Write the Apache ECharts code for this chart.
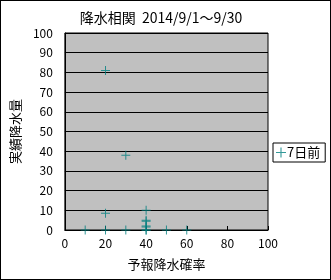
<!DOCTYPE html>
<html><head><meta charset="utf-8">
<script src="https://cdn.jsdelivr.net/npm/echarts@6/dist/echarts.min.js"></script>
<style>html,body{margin:0;padding:0;background:#fff}#c{width:331px;height:280px;box-sizing:border-box;border:1px solid #000}</style>
</head><body><div id="c"></div>
<script>
const forecastProb = [20, 30, 20, 40, 40, 40, 40, 40, 40, 10, 20, 30, 40, 50, 60];
const actualRain   = [81, 38, 8.5, 10, 5, 4.5, 2, 1.5, 0, 0, 0, 0, 0, 0, 0];
const seriesName = '7日前';
const titleText = '降水相関  2014/9/1～9/30';
const xName = '予報降水確率';
const yName = '実績降水量';

const plus = 'path://M4,0h1v9h-1zM0,4h9v1h-9z';
const chart = echarts.init(document.getElementById('c'));
const font = '"Noto Sans CJK JP", sans-serif';
chart.setOption({
  animation: false,
  textStyle: {fontFamily: font},
  title: {text: titleText, left: 155, textAlign: 'center', top: 5,
    textStyle: {fontSize: 14, fontWeight: 'normal', color: '#000', fontFamily: font}},
  legend: {orient: 'vertical', left: 272, top: 142, itemWidth: 10, itemHeight: 10, itemGap: 0,
    padding: [3, 5, 3, 3], borderColor: '#000', borderWidth: 1, backgroundColor: '#fff',
    icon: plus, textStyle: {fontSize: 13, color: '#000', padding: [0, 0, 0, -4]}, data: [seriesName]},
  grid: {left: 60, right: 62, top: 32, bottom: 49, show: true, backgroundColor: '#c0c0c0', borderColor: '#000', borderWidth: 1},
  xAxis: {type: 'value', min: 0, max: 100, interval: 20, name: xName, nameLocation: 'middle', nameGap: 28,
    nameTextStyle: {fontSize: 13, color: '#000'},
    axisLine: {show: true, lineStyle: {color: '#000'}}, axisTick: {show: true, inside: true, length: 4, lineStyle: {color: '#000'}},
    axisLabel: {fontSize: 12, color: '#000', margin: 7}, splitLine: {show: false}},
  yAxis: {type: 'value', min: 0, max: 100, interval: 10, name: yName, nameLocation: 'middle', nameGap: 34,
    nameTextStyle: {fontSize: 13, color: '#000'},
    axisLine: {show: true, lineStyle: {color: '#000'}}, axisTick: {show: false},
    axisLabel: {fontSize: 12, color: '#000', margin: 12}, splitLine: {show: true, lineStyle: {color: '#000', width: 1}}},
  series: [{name: seriesName, type: 'scatter', symbol: plus, symbolSize: 9,
    itemStyle: {color: '#008080'},
    data: forecastProb.map((x, i) => [x, actualRain[i]])}]
});
</script></body></html>
